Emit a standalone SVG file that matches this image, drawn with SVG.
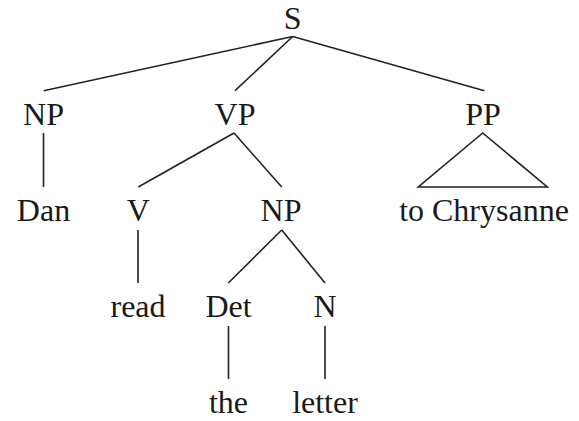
<svg xmlns="http://www.w3.org/2000/svg" width="579" height="421" viewBox="0 0 579 421">
<style>
text{font-family:"Liberation Serif","Times New Roman",serif;font-size:32px;fill:#1a1a1a;text-anchor:middle}
.e{stroke:#222;stroke-width:1.6;fill:none;stroke-linecap:butt}
</style>
<rect width="579" height="421" fill="#fff"/>
<g id="connectors" class="e">
<line x1="292.7" y1="36.5" x2="43.7" y2="90.7"/>
<line x1="292.7" y1="36.5" x2="235" y2="90.7"/>
<line x1="292.7" y1="36.5" x2="484.4" y2="90.7"/>
<line x1="43.5" y1="133" x2="43.5" y2="187"/>
<line x1="234" y1="133" x2="138.3" y2="187"/>
<line x1="234" y1="133" x2="281.7" y2="187"/>
<polygon points="482.7,133 418.3,187 547.3,187"/>
<line x1="138" y1="230" x2="138" y2="283"/>
<line x1="281.7" y1="230" x2="228.3" y2="283"/>
<line x1="281.7" y1="230" x2="325" y2="283"/>
<line x1="228.5" y1="326" x2="228.5" y2="379"/>
<line x1="325" y1="326" x2="325" y2="379"/>
</g>
<g id="S"><text x="292.7" y="28.5">S</text></g>
<g id="NP1"><text x="43.5" y="124.5">NP</text></g>
<g id="VP"><text x="235" y="124.5">VP</text></g>
<g id="PP"><text x="483" y="124.5">PP</text></g>
<g id="Dan"><text x="43.5" y="220.5">Dan</text></g>
<g id="V"><text x="138.3" y="220.5">V</text></g>
<g id="NP2"><text x="281" y="220.5">NP</text></g>
<g id="toChrysanne"><text x="484" y="220.5">to Chrysanne</text></g>
<g id="read"><text x="138" y="316.5">read</text></g>
<g id="Det"><text x="228.5" y="316.5">Det</text></g>
<g id="N"><text x="325" y="316.5">N</text></g>
<g id="the"><text x="228.5" y="412.5">the</text></g>
<g id="letter"><text x="325" y="412.5">letter</text></g>
</svg>
